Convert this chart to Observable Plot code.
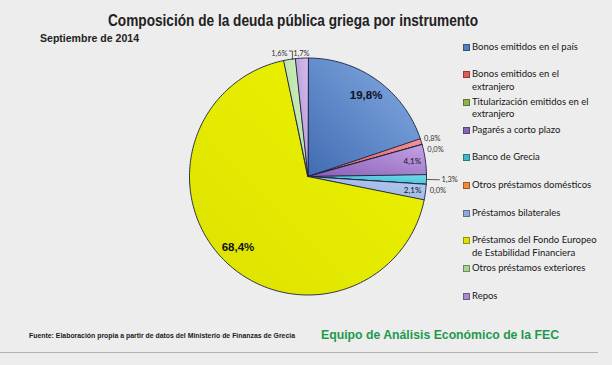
<!DOCTYPE html>
<html><head><meta charset="utf-8">
<script src="https://cdn.jsdelivr.net/npm/d3@7"></script>
<script src="https://cdn.jsdelivr.net/npm/@observablehq/plot@0.6"></script>
<style>
html,body{margin:0;padding:0;background:#ededed;}
#wrap{position:relative;width:612px;height:365px;overflow:hidden;background:#ededed;font-family:Lato,"Open Sans",sans-serif;}
#wrap svg{position:absolute;left:0;top:0;}
.leg{position:absolute;left:463px;font-size:9.5px;color:#161616;line-height:12.5px;white-space:nowrap;}
.leg .sw{position:absolute;left:0;top:3px;width:5px;height:5px;border:1px solid #555;}
.leg .tx{position:absolute;left:9px;top:0;}
</style></head><body><div id="wrap"></div>
<script>
const categories = ["Bonos emitidos en el país","Bonos emitidos en el extranjero","Titularización emitidos en el extranjero","Pagarés a corto plazo","Banco de Grecia","Otros préstamos domésticos","Préstamos bilaterales","Préstamos del Fondo Europeo de Estabilidad Financiera","Otros préstamos exteriores","Repos"];
const legendLines = [["Bonos emitidos en el país"],["Bonos emitidos en el","extranjero"],["Titularización emitidos en el","extranjero"],["Pagarés a corto plazo"],["Banco de Grecia"],["Otros préstamos domésticos"],["Préstamos bilaterales"],["Préstamos del Fondo Europeo","de Estabilidad Financiera"],["Otros préstamos exteriores"],["Repos"]];
const values = [19.8,0.8,0.0,4.1,1.3,0.0,2.1,68.4,1.6,1.7];
const colorsLight = ["#86ade4","#f49494","#b4d27a","#c6a2e6","#74dcea","#fbb27a","#bccff2","#eef400","#d6f3c4","#d6bdec"];
const colorsDark  = ["#416cb2","#d85454","#86a848","#875eb4","#2fb2c8","#e88234","#8ca8dc","#dce200","#a9d893","#a88ccc"];
const swatchColors = ["#4f7fc4","#e05a5a","#8fb24f","#8a64b8","#3fb8cc","#f08a3c","#90a9d6","#dde400","#a8d48e","#a68ccc"];
const leaderCategories = ["Banco de Grecia","Otros préstamos exteriores"];

const title = "Composición de la deuda pública griega por instrumento";
const subtitle = "Septiembre de 2014";
const source = "Fuente: Elaboración propia a partir de datos del Ministerio de Finanzas de Grecia";
const credit = "Equipo de Análisis Económico de la FEC";

const fmt = d3.formatLocale({decimal:",",thousands:".",grouping:[3],currency:["","€"]}).format(".1f");
const CX = 307.5, CY = 176, RPX = 118.5;

const total = d3.sum(values);
let acc = 0;
const slices = categories.map((c,i)=>{
  const a0 = acc/total*2*Math.PI; acc += values[i];
  const a1 = acc/total*2*Math.PI;
  return {c, i, v: values[i], a0, a1, mid:(a0+a1)/2, label: fmt(values[i])+"%"};
});
const outline = slices.flatMap(s=>{
  const n = Math.max(1, Math.ceil((s.a1-s.a0)/(Math.PI/120)));
  const pts = [{c:s.c,x:0,y:0}];
  for(let k=0;k<=n;k++){const a=s.a0+(s.a1-s.a0)*k/n; pts.push({c:s.c,x:Math.sin(a),y:Math.cos(a)});}
  return pts;
});
const inside = slices.filter(s=>s.v>=2).map(s=>{const k=s.v>10?0.84:0.89; return {...s,x:Math.sin(s.mid)*k,y:Math.cos(s.mid)*k};});
const outside = slices.filter(s=>s.v<2).map(s=>({...s}));
const right = outside.filter(s=>Math.sin(s.mid)>0.5).sort((a,b)=>a.mid-b.mid);
right.forEach(s=>{s.ly=Math.cos(s.mid)*1.1;});
for(let i=1;i<right.length;i++) right[i].ly=Math.min(right[i].ly,right[i-1].ly-11/RPX);
right.forEach(s=>{s.lx=Math.sqrt(Math.max(0,1-s.ly*s.ly)); s.leader=leaderCategories.includes(s.c);});
const topL = outside.filter(s=>Math.sin(s.mid)<=0.5).sort((a,b)=>b.mid-a.mid);
topL.forEach(s=>{s.lx=Math.sin(s.mid)*1.05; s.ly=1+2/RPX;});
for(let i=1;i<topL.length;i++) topL[i].lx=Math.min(topL[i].lx,topL[i-1].lx-22/RPX);
topL.forEach(s=>{s.leader=leaderCategories.includes(s.c);});
const leaderPts = [];
right.filter(s=>s.leader).forEach(s=>{
  leaderPts.push({c:s.c,x:Math.sin(s.mid),y:Math.cos(s.mid)});
  leaderPts.push({c:s.c,x:s.lx+13/RPX,y:s.ly});
});
topL.filter(s=>s.leader).forEach(s=>{
  const ex=Math.sin(s.mid), ey=Math.cos(s.mid), my=s.ly+5/RPX;
  leaderPts.push({c:s.c,x:s.lx+10/RPX,y:my});
  leaderPts.push({c:s.c,x:ex+3/RPX,y:my});
  leaderPts.push({c:s.c,x:ex+3/RPX,y:ey});
});

const sans = "'Liberation Sans', Arial, sans-serif";
const plot = Plot.plot({
  width:612, height:365, margin:0,
  x:{domain:[-1,1], range:[CX-RPX, CX+RPX], axis:null},
  y:{domain:[-1,1], range:[CY+RPX, CY-RPX], axis:null},
  color:{domain:categories, range:categories.map((c,i)=>`url(#pg${i})`)},
  style:{background:"transparent", overflow:"visible", fontFamily:"Lato, 'Open Sans', sans-serif"},
  marks:[
    Plot.line(outline,{x:"x",y:"y",z:"c",fill:"c",stroke:"#1c2140",strokeWidth:0.9,curve:"linear-closed",strokeLinejoin:"round"}),
    Plot.line(leaderPts,{x:"x",y:"y",z:"c",stroke:"#333",strokeWidth:0.8}),
    Plot.text(inside.filter(s=>s.v>10),{x:"x",y:"y",text:"label",fontSize:11.5,fontWeight:"bold",fontFamily:sans,fill:"#111122"}),
    Plot.text(inside.filter(s=>s.v<=10),{x:"x",y:"y",text:"label",fontSize:8,fill:"#111122"}),
    Plot.text(right.filter(s=>!s.leader),{x:"lx",y:"ly",text:"label",dx:4,fontSize:7.5,textAnchor:"start",fill:"#333"}),
    Plot.text(right.filter(s=>s.leader),{x:"lx",y:"ly",text:"label",dx:15,fontSize:7.5,textAnchor:"start",fill:"#333"}),
    Plot.text(topL,{x:"lx",y:"ly",text:"label",fontSize:7.5,lineAnchor:"bottom",fill:"#333"})
  ]
});
const defs = d3.select(plot).insert("defs",":first-child");
categories.forEach((c,i)=>{
  const g = defs.append("linearGradient").attr("id",`pg${i}`).attr("x1","1").attr("y1","0").attr("x2","0").attr("y2","1");
  g.append("stop").attr("offset","0%").attr("stop-color",colorsLight[i]);
  g.append("stop").attr("offset","100%").attr("stop-color",colorsDark[i]);
});
const wrap = document.getElementById("wrap");
wrap.appendChild(plot);

const ov = d3.create("svg").attr("width",612).attr("height",365).style("pointer-events","none");
ov.append("text").text(title).attr("x",108).attr("y",26).attr("font-family",sans).attr("font-weight","bold").attr("font-size",16.5).attr("fill","#222").attr("textLength",370).attr("lengthAdjust","spacingAndGlyphs");
ov.append("text").text(subtitle).attr("x",40).attr("y",42).attr("font-family",sans).attr("font-weight","bold").attr("font-size",11).attr("fill","#222").attr("textLength",99).attr("lengthAdjust","spacingAndGlyphs");
ov.append("text").text(source).attr("x",29).attr("y",337.5).attr("font-family",sans).attr("font-weight","bold").attr("font-size",7.5).attr("fill","#1a1a1a").attr("textLength",266).attr("lengthAdjust","spacingAndGlyphs");
ov.append("text").text(credit).attr("x",321).attr("y",339).attr("font-family",sans).attr("font-weight","bold").attr("font-size",13.5).attr("fill","#1e9a4e").attr("textLength",238).attr("lengthAdjust","spacingAndGlyphs");
ov.append("line").attr("x1",0).attr("x2",598).attr("y1",352.5).attr("y2",352.5).attr("stroke","#b3b3b3").attr("stroke-width",1);
wrap.appendChild(ov.node());

legendLines.forEach((lines,i)=>{
  const d = document.createElement("div");
  d.className = "leg";
  d.style.top = (47 + 27.7*i - 6.5) + "px";
  const sw = document.createElement("div"); sw.className="sw"; sw.style.background = swatchColors[i]; sw.style.borderColor = d3.color(swatchColors[i]).darker(1.2).formatHex();
  const tx = document.createElement("div"); tx.className="tx"; tx.innerHTML = lines.join("<br>");
  d.appendChild(sw); d.appendChild(tx); wrap.appendChild(d);
});
</script></body></html>
